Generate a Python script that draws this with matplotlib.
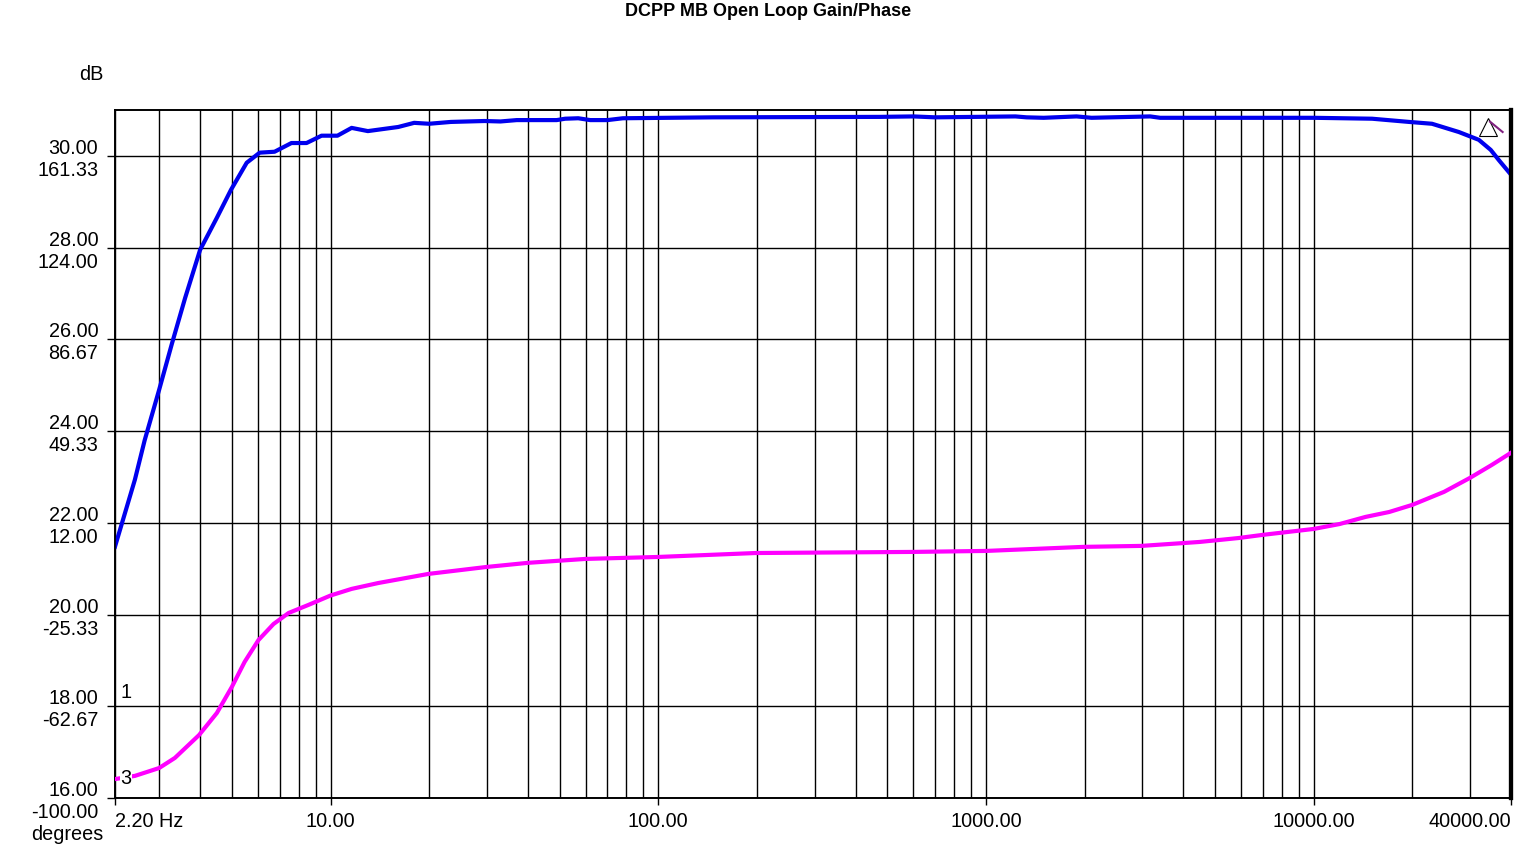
import numpy as np
import matplotlib.pyplot as plt
from matplotlib.ticker import FixedLocator, NullFormatter

plt.rcParams['font.family'] = ['Liberation Sans', 'DejaVu Sans']

# gain (dB)
gain_freq = [2.2, 2.53, 2.71, 3.0, 3.28, 3.6, 4.0, 4.5, 4.97, 5.55, 6.08, 6.75,
             7.6, 8.45, 9.39, 10.5, 11.6, 13.0, 16.1, 18.0, 20.0, 23.3, 29.5,
             33, 37, 49, 52, 57, 62, 70, 78, 147, 474, 600, 700, 1230, 1330,
             1500, 1890, 2100, 3170, 3400, 3700, 10000, 15070, 19540, 22960,
             27730, 31900, 34690, 36700, 40000]
gain_db = [21.48, 22.94, 23.8, 24.9, 25.9, 26.9, 27.95, 28.65, 29.26, 29.85,
           30.07, 30.09, 30.28, 30.28, 30.44, 30.44, 30.61, 30.54, 30.63, 30.72,
           30.70, 30.74, 30.76, 30.75, 30.78, 30.78, 30.81, 30.82, 30.78, 30.78,
           30.82, 30.84, 30.85, 30.86, 30.84, 30.86, 30.84, 30.83, 30.86, 30.83,
           30.86, 30.83, 30.83, 30.83, 30.81, 30.74, 30.70, 30.52, 30.35, 30.13,
           29.91, 29.59]

# phase (degrees)
phase_freq = [2.2, 2.53, 3.0, 3.35, 3.97, 4.5, 5.0, 5.47, 6.03, 6.70, 7.45,
              8.57, 10.0, 11.6, 14.0, 19.9, 29.8, 40, 60, 100, 198, 600, 1000,
              1980, 2980, 4480, 5900, 7000, 10000, 12000, 14400, 17000, 20000,
              25000, 30000, 35000, 40000]
phase_deg = [-92.3, -91.0, -87.8, -83.7, -74.4, -65.4, -54.8, -44.6, -35.7,
             -29.2, -24.7, -21.4, -17.6, -14.9, -12.5, -8.8, -6.0, -4.3, -2.7,
             -1.9, -0.3, 0.15, 0.55, 2.2, 2.6, 4.2, 5.8, 7.1, 9.5, 11.5, 14.4,
             16.4, 19.3, 24.6, 30.3, 35.6, 40.5]

db_ticks = [16, 18, 20, 22, 24, 26, 28, 30]
deg_ticks = ['-100.00', '-62.67', '-25.33', '12.00', '49.33', '86.67', '124.00', '161.33']
x_ticks = [2.2, 10, 100, 1000, 10000, 40000]
x_labels = ['2.20 Hz', '10.00', '100.00', '1000.00', '10000.00', '40000.00']

fs = 14.3

fig = plt.figure(figsize=(15.38, 8.66), dpi=100)
ax = fig.add_axes([115 / 1538, 1 - 798 / 866, 1396 / 1538, 688 / 866])
ax2 = ax.twinx()

ax.set_xscale('log')
ax.set_xlim(2.2, 40000)
ax.set_ylim(16, 31)
ax2.set_ylim(-100, 180)

ax.plot(gain_freq, gain_db, color='#0000ee', lw=3, zorder=5)
ax2.plot(phase_freq, phase_deg, color='#ff00ff', lw=3, zorder=5)

# grid
minors = [m * 10 ** e for e in range(0, 5) for m in range(2, 10)]
minors = [v for v in minors if 2.2 < v < 40000 and v not in x_ticks]
ax.xaxis.set_major_locator(FixedLocator(x_ticks))
ax.xaxis.set_minor_locator(FixedLocator(minors))
ax.xaxis.set_minor_formatter(NullFormatter())
ax.set_xticklabels(x_labels)
ax.set_yticks(db_ticks)
ax.set_yticklabels([f'{d:.2f}\n{p}' for d, p in zip(db_ticks, deg_ticks)])
ax.grid(True, which='both', axis='x', color='black', lw=1.0)
ax.grid(True, which='major', axis='y', color='black', lw=1.0)
ax.set_axisbelow(True)

ax.tick_params(axis='x', which='major', length=5, width=1, pad=5, labelsize=fs)
ax.tick_params(axis='x', which='minor', length=0)
ax.tick_params(axis='y', length=6, width=1, pad=6, labelsize=fs)
ax2.set_yticks([])
xl = ax.get_xticklabels()
xl[0].set_ha('left')
xl[-1].set_ha('right')

for a in (ax, ax2):
    for s in a.spines.values():
        s.set_color('black')
        s.set_linewidth(1.2)
ax2.spines['right'].set_linewidth(3)
ax.spines['right'].set_linewidth(3)

fig.text(768 / 1538, 1 - 11 / 866, 'DCPP MB Open Loop Gain/Phase', ha='center',
         va='center', fontsize=13, fontweight='bold')
fig.text(103 / 1538, 1 - 74 / 866, 'dB', ha='right', va='center', fontsize=fs)
fig.text(103 / 1538, 1 - 834 / 866, 'degrees', ha='right', va='center', fontsize=fs)

ax2.text(0.004, 0.154, '1', transform=ax2.transAxes, ha='left', va='center', fontsize=fs)
ax2.text(0.004, 0.029, '3', transform=ax2.transAxes, ha='left', va='center', fontsize=fs,
         zorder=6, bbox=dict(facecolor='white', edgecolor='none', pad=0.3))

# probe marker icon, top right
ax2.plot([0.9835], [0.975], transform=ax2.transAxes, marker='^', ms=13,
         mfc='none', mec='black', mew=0.8, clip_on=False, zorder=7)
ax2.plot([0.985, 0.994], [0.983, 0.968], transform=ax2.transAxes, color='#802080',
         lw=1.5, zorder=7)

fig.savefig('out.png', dpi=100)
